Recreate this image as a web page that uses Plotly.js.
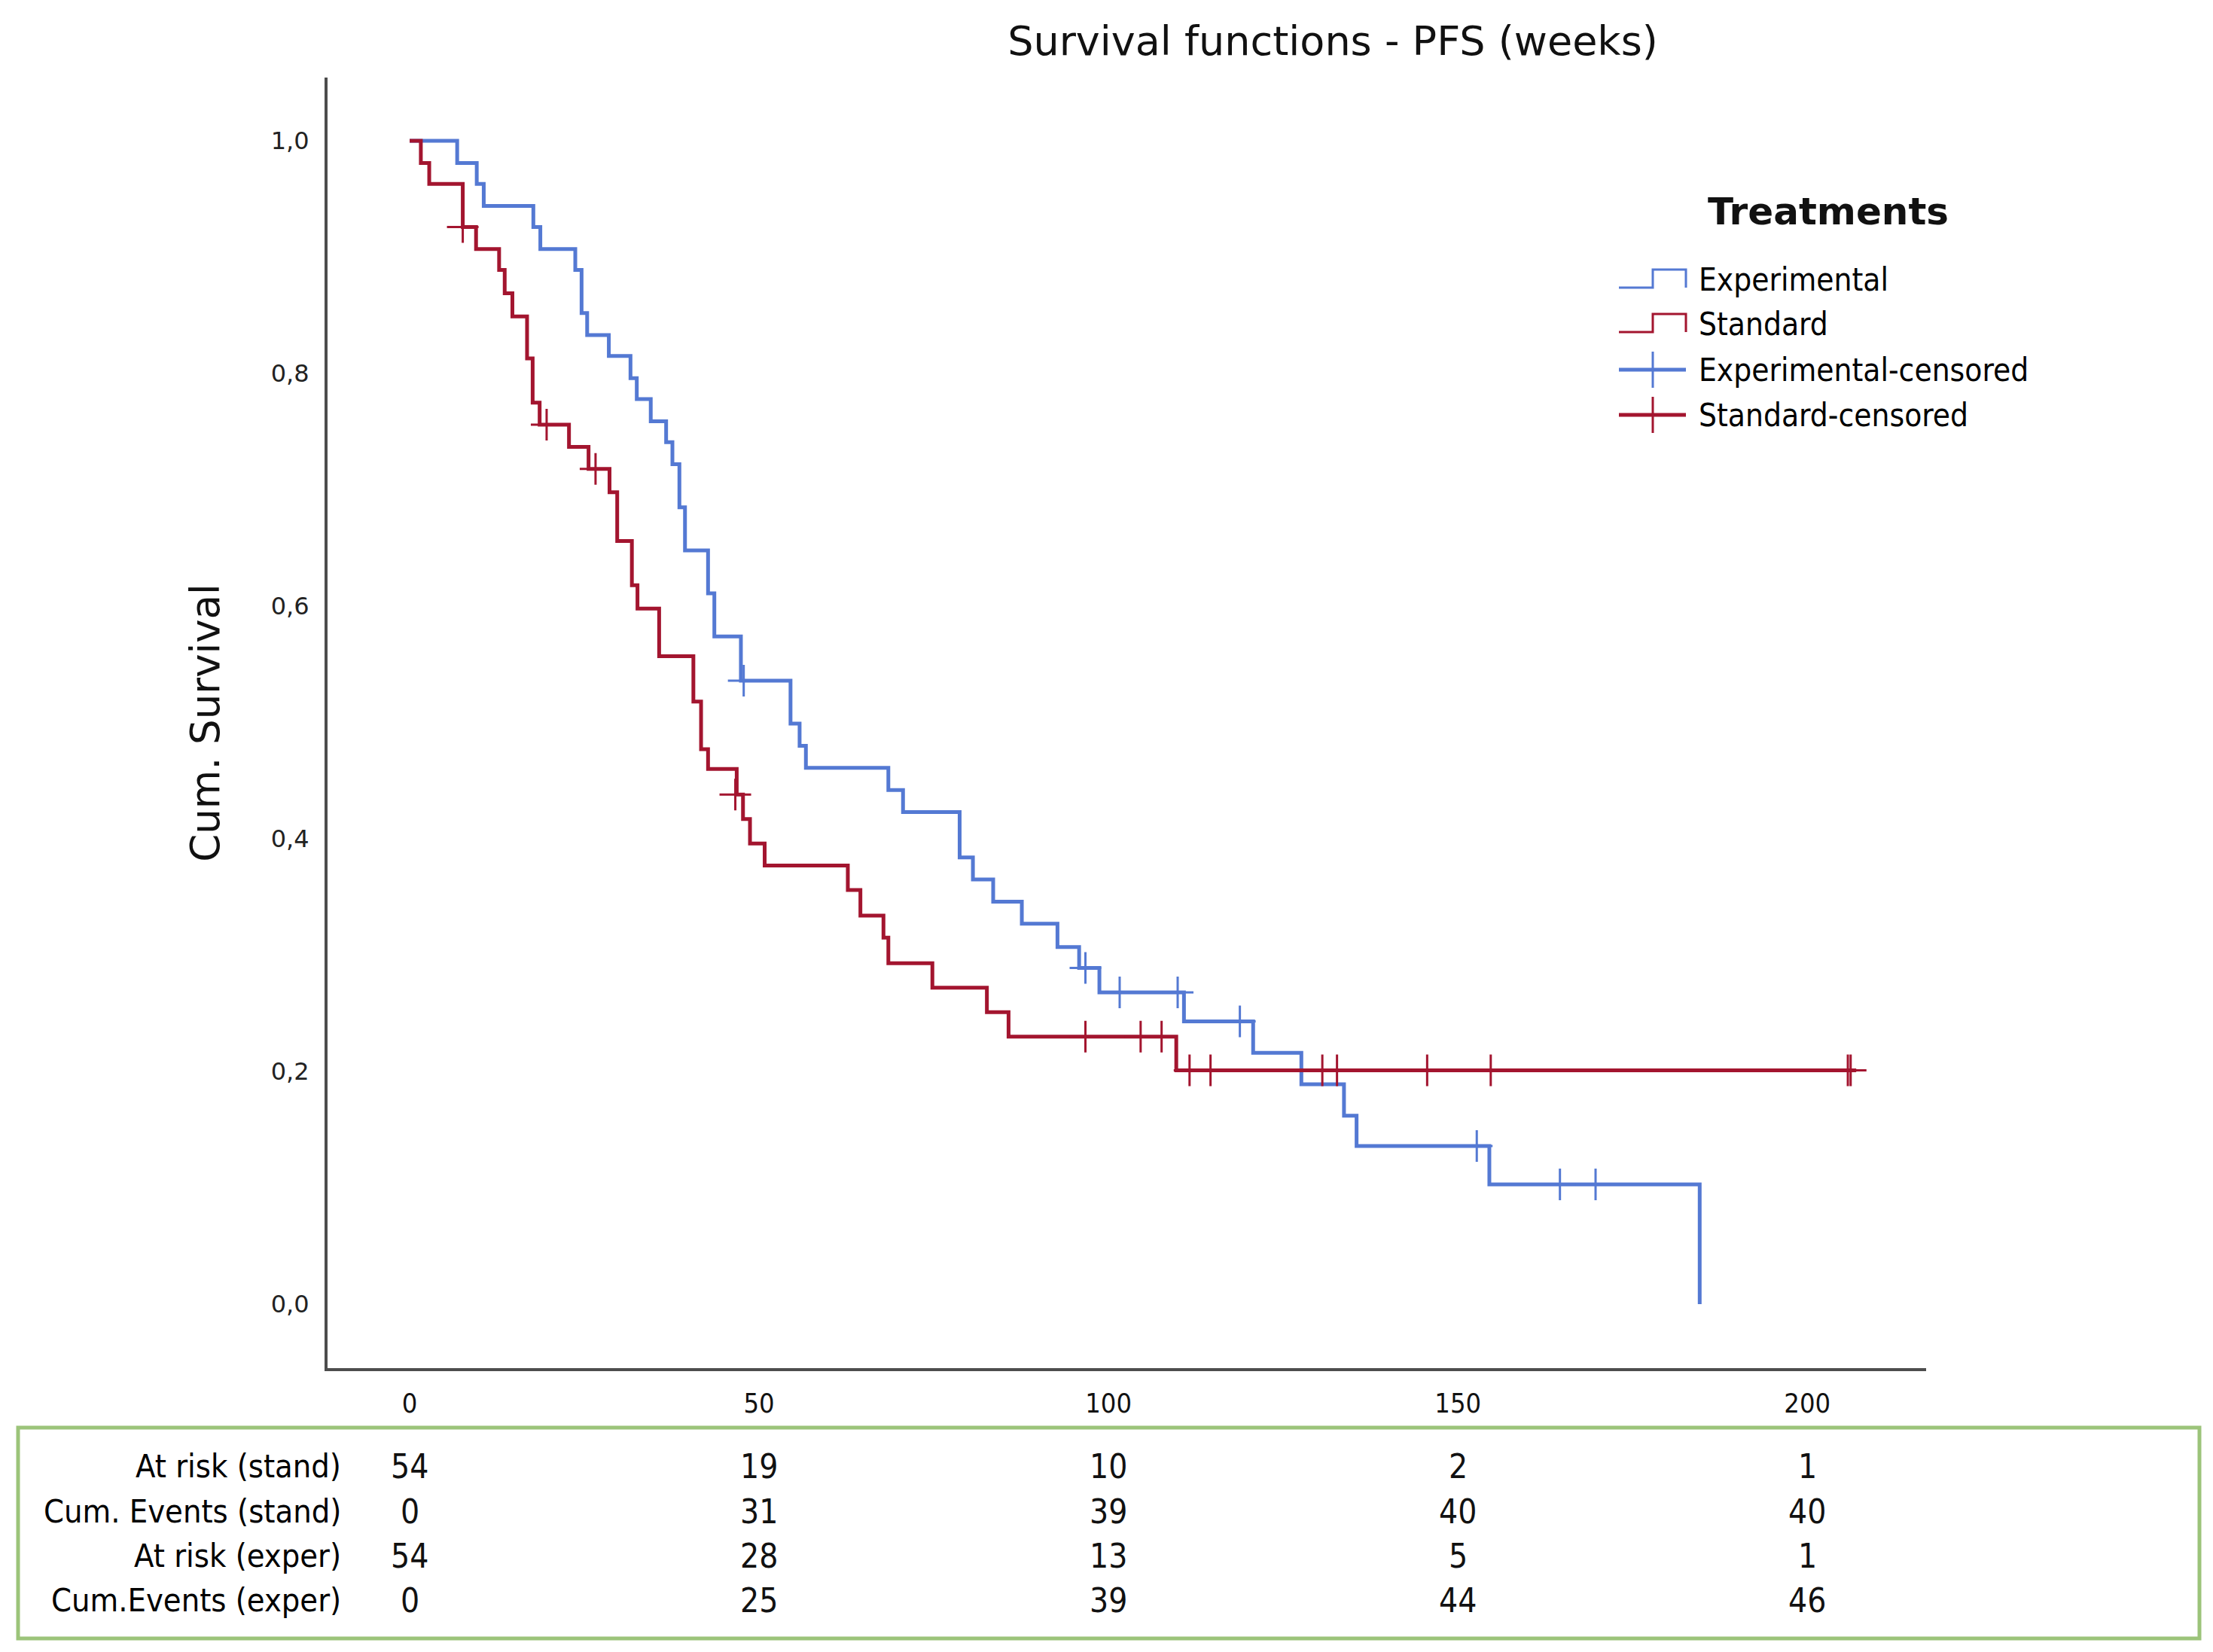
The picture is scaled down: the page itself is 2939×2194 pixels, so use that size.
<!DOCTYPE html>
<html>
<head>
<meta charset="utf-8">
<script src="https://cdn.plot.ly/plotly-3.0.1.min.js"></script>
<style>html,body{margin:0;padding:0;background:#fff;}#chart{width:2939px;height:2194px;}</style>
</head>
<body>
<div id="chart"></div>
<script>
// ---- Data ----
const expTimes = [0, 6.8, 9.6, 10.6, 17.7, 18.7, 23.7, 24.6, 25.4, 28.5, 31.6, 32.5, 34.5, 36.7, 37.6, 38.6, 39.4, 42.7, 43.6, 47.4, 54.5, 55.8, 56.7, 68.5, 70.6, 78.7, 80.6, 83.5, 87.6, 92.7, 95.8, 98.7, 110.8, 120.7, 127.6, 133.7, 135.5, 154.5, 184.6];
const expSurv  = [1.0, 0.981, 0.963, 0.944, 0.926, 0.907, 0.889, 0.852, 0.833, 0.815, 0.796, 0.778, 0.759, 0.741, 0.722, 0.685, 0.648, 0.611, 0.574, 0.536, 0.499, 0.480, 0.461, 0.442, 0.423, 0.384, 0.365, 0.346, 0.327, 0.307, 0.289, 0.268, 0.243, 0.216, 0.189, 0.162, 0.136, 0.103, 0.0];
const expCensTimes = [47.8, 96.7, 101.6, 109.9, 118.8, 152.7, 164.6, 169.7];
const expCensSurv  = [0.536, 0.289, 0.268, 0.268, 0.243, 0.136, 0.103, 0.103];

const stdTimes = [0, 1.6, 2.8, 7.6, 9.5, 12.8, 13.6, 14.7, 16.8, 17.6, 18.6, 22.8, 25.6, 28.6, 29.7, 31.8, 32.6, 35.7, 40.6, 41.7, 42.7, 46.8, 47.7, 48.7, 50.8, 62.7, 64.5, 67.8, 68.5, 74.8, 82.6, 85.7, 109.7, 207.0];
const stdSurv  = [1.0, 0.981, 0.963, 0.926, 0.907, 0.889, 0.869, 0.849, 0.813, 0.775, 0.756, 0.737, 0.718, 0.698, 0.656, 0.618, 0.598, 0.557, 0.518, 0.477, 0.460, 0.438, 0.417, 0.396, 0.377, 0.356, 0.334, 0.315, 0.293, 0.272, 0.251, 0.230, 0.201, 0.201];
const stdCensTimes = [7.6, 19.6, 26.6, 46.6, 96.7, 104.6, 107.6, 111.6, 114.6, 130.6, 132.7, 145.6, 154.7, 205.8, 206.2];
const stdCensSurv  = [0.926, 0.756, 0.718, 0.438, 0.230, 0.230, 0.230, 0.201, 0.201, 0.201, 0.201, 0.201, 0.201, 0.201, 0.201];

const xTicks = [0, 50, 100, 150, 200];
const yTicks = [0, 0.2, 0.4, 0.6, 0.8, 1.0];

const tableTimes = [0, 50, 100, 150, 200];
const tableRowLabels = ['At risk (stand)', 'Cum. Events (stand)', 'At risk (exper)', 'Cum.Events (exper)'];
const atRiskStand = [54, 19, 10, 2, 1];
const cumEventsStand = [0, 31, 39, 40, 40];
const atRiskExper = [54, 28, 13, 5, 1];
const cumEventsExper = [0, 25, 39, 44, 46];
const tableRows = [atRiskStand, cumEventsStand, atRiskExper, cumEventsExper];

const legendTitle = 'Treatments';
const legendLabels = ['Experimental', 'Standard', 'Experimental-censored', 'Standard-censored'];

// ---- Styling / layout ----
const W = 2939, H = 2194;
const M = {l: 435, r: 381, t: 103, b: 377};
const PW = W - M.l - M.r, PH = H - M.t - M.b;
const px = X => (X - M.l) / PW;
const py = Y => (H - M.b - Y) / PH;

const BLUE = '#5479d3';
const RED = '#a3152f';
const SANS = 'DejaVu Sans, sans-serif';
const COND = 'DejaVu Sans Condensed, DejaVu Sans, sans-serif';
const NARROW = 'Liberation Sans Narrow, DejaVu Sans Condensed, sans-serif';

const traces = [
  {x: expTimes, y: expSurv, mode: 'lines', line: {shape: 'hv', color: BLUE, width: 5}, name: legendLabels[0], showlegend: false, hoverinfo: 'skip'},
  {x: stdTimes, y: stdSurv, mode: 'lines', line: {shape: 'hv', color: RED, width: 5}, name: legendLabels[1], showlegend: false, hoverinfo: 'skip'},
  {x: expCensTimes, y: expCensSurv, mode: 'markers', marker: {symbol: 'cross-thin', size: 30, line: {color: BLUE, width: 3}}, name: legendLabels[2], showlegend: false, hoverinfo: 'skip'},
  {x: stdCensTimes, y: stdCensSurv, mode: 'markers', marker: {symbol: 'cross-thin', size: 30, line: {color: RED, width: 3}}, name: legendLabels[3], showlegend: false, hoverinfo: 'skip'}
];

const annotations = [];
const shapes = [];

// Risk table
const rowY = [1947, 2007, 2066, 2125];
tableRows.forEach((row, r) => {
  annotations.push({xref: 'paper', yref: 'paper', x: px(455), y: py(rowY[r]), xanchor: 'right', yanchor: 'middle',
    text: tableRowLabels[r], showarrow: false, font: {family: NARROW, size: 43, color: '#000'}});
  row.forEach((v, i) => {
    annotations.push({xref: 'x', yref: 'paper', x: tableTimes[i], y: py(rowY[r]), xanchor: 'center', yanchor: 'middle',
      text: String(v), showarrow: false, font: {family: NARROW, size: 44, color: '#111'}});
  });
});
shapes.push({type: 'rect', xref: 'paper', yref: 'paper', x0: px(24), x1: px(2921), y0: py(1896), y1: py(2176),
  line: {color: '#9cc47a', width: 5}, fillcolor: 'rgba(0,0,0,0)'});

// Legend (manual, to reproduce the step icons)
annotations.push({xref: 'paper', yref: 'paper', x: px(2428), y: py(281), xanchor: 'center', yanchor: 'middle',
  text: '<b>' + legendTitle + '</b>', showarrow: false, font: {family: SANS, size: 50, color: '#111'}});
const legY = [372, 431, 491, 551];
const legCol = [BLUE, RED, BLUE, RED];
legendLabels.forEach((lab, i) => {
  annotations.push({xref: 'paper', yref: 'paper', x: px(2254), y: py(legY[i]), xanchor: 'left', yanchor: 'middle',
    text: lab, showarrow: false, font: {family: COND, size: 42, color: '#000'}});
  if (i < 2) {
    const lo = legY[i] + 10, hi = legY[i] - 14;
    shapes.push({type: 'path', xref: 'paper', yref: 'paper',
      path: `M ${px(2150)} ${py(lo)} L ${px(2195)} ${py(lo)} L ${px(2195)} ${py(hi)} L ${px(2239)} ${py(hi)} L ${px(2239)} ${py(lo)}`,
      line: {color: legCol[i], width: 3}});
  } else {
    shapes.push({type: 'line', xref: 'paper', yref: 'paper', x0: px(2150), x1: px(2239), y0: py(legY[i]), y1: py(legY[i]),
      line: {color: legCol[i], width: 5}});
    shapes.push({type: 'line', xref: 'paper', yref: 'paper', x0: px(2195), x1: px(2195), y0: py(legY[i] - 24), y1: py(legY[i] + 24),
      line: {color: legCol[i], width: 3}});
  }
});

const layout = {
  width: W, height: H,
  margin: M,
  paper_bgcolor: '#fff', plot_bgcolor: '#fff',
  separators: ',.',
  showlegend: false,
  title: {text: 'Survival functions - PFS (weeks)', font: {family: SANS, size: 54, color: '#111'},
    xref: 'paper', x: px(1770), xanchor: 'center', yref: 'container', y: 1 - 54 / H, yanchor: 'middle'},
  xaxis: {range: [-11.75, 217], tickvals: xTicks, ticktext: xTicks.map(String), ticks: '', showgrid: false, zeroline: false,
    showline: true, linecolor: '#4d4d4d', linewidth: 4, tickfont: {family: COND, size: 36, color: '#111'},
    ticklabelstandoff: 12},
  yaxis: {range: [-0.055, 1.0544], tickvals: yTicks, tickformat: '.1f', ticks: '', showgrid: false, zeroline: false,
    showline: true, linecolor: '#4d4d4d', linewidth: 4, tickfont: {family: SANS, size: 32, color: '#222'},
    ticklabelstandoff: 14,
    title: {text: 'Cum. Survival', font: {family: SANS, size: 53, color: '#111'}, standoff: 52}},
  annotations: annotations,
  shapes: shapes
};

Plotly.newPlot('chart', traces, layout, {displayModeBar: false, staticPlot: true});
</script>
</body>
</html>
